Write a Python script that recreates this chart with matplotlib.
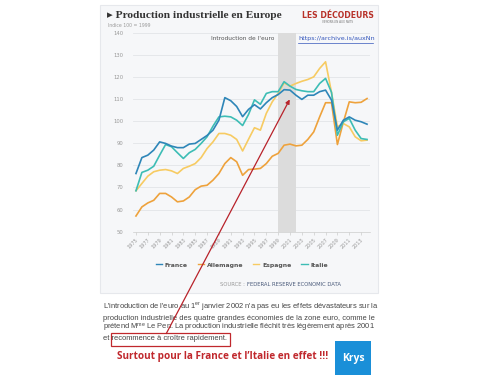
import matplotlib
matplotlib.use("Agg")
import matplotlib.pyplot as plt
from matplotlib.patches import Rectangle, FancyArrowPatch
from matplotlib.lines import Line2D

plt.rcParams['font.family'] = ['DejaVu Sans']
plt.rcParams['mathtext.fontset'] = 'custom'

years = list(range(1975, 2015))
france = [76.3, 83.5, 84.6, 86.9, 90.6, 89.9, 88.7, 88.0, 88.0, 89.6,
          89.9, 91.7, 93.5, 95.9, 100.4, 110.6, 109.2, 106.6, 102.0, 105.3,
          107.4, 105.5, 108.3, 110.6, 112.0, 114.2, 114.0, 111.7, 109.8, 111.7,
          111.7, 113.3, 114.0, 109.5, 95.9, 100.4, 101.9, 100.4, 99.7, 98.6]
allemagne = [57.1, 61.2, 63.0, 64.2, 67.3, 67.3, 65.7, 63.5, 63.9, 65.7,
             69.0, 70.6, 71.0, 73.3, 76.3, 80.8, 83.5, 81.6, 75.5, 78.1,
             78.3, 78.6, 80.8, 84.1, 85.4, 89.1, 89.6, 88.8, 89.1, 91.7,
             95.1, 101.9, 108.3, 108.3, 89.4, 99.5, 108.7, 108.3, 108.5, 110.2]
espagne = [68.5, 71.8, 75.1, 77.1, 77.8, 78.1, 77.5, 76.3, 78.6, 79.6,
           80.8, 83.5, 87.6, 90.6, 94.4, 94.4, 93.6, 91.7, 86.5, 91.8,
           97.0, 95.9, 103.5, 108.7, 112.5, 117.3, 115.8, 117.0, 118.0, 118.8,
           120.0, 123.8, 126.8, 113.0, 97.4, 98.9, 97.4, 92.9, 91.1, 91.4]
italie = [68.5, 76.8, 77.8, 79.6, 84.6, 89.4, 88.4, 85.7, 83.1, 85.7,
          87.2, 89.9, 92.9, 97.7, 101.9, 102.2, 101.9, 100.4, 98.0, 103.0,
          109.6, 107.6, 112.5, 113.3, 113.3, 117.8, 115.8, 114.3, 113.7, 113.3,
          113.3, 117.0, 119.3, 113.0, 93.6, 99.7, 101.2, 95.9, 92.1, 91.7]
series_names = ["France", "Allemagne", "Espagne", "Italie"]
colors = ["#2e86b8", "#eea23c", "#f7cb62", "#3dbdb5"]
tick_years = list(range(1975, 2014, 2))
yticks = list(range(50, 141, 10))
euro_band = (1999, 2002)

W, H = 486, 380
fig = plt.figure(figsize=(W / 100, H / 100), dpi=100)
fig.patch.set_facecolor("white")

def fx(px):
    return px / W

def fy(py):
    return 1 - py / H

# card background
card = Rectangle((fx(100), fy(293)), fx(378) - fx(100), fy(5) - fy(293),
                 transform=fig.transFigure, facecolor="#f6f7f9",
                 edgecolor="#e6e8ec", lw=0.8, zorder=-10)
fig.patches.append(card)

ax = fig.add_axes([fx(133), fy(231.7), fx(370) - fx(133), fy(32.6) - fy(231.7)])
ax.set_zorder(1)
ax.set_facecolor("#f6f7f9")
ax.set_xlim(1974.5, 2014.5)
ax.set_ylim(50, 140)
ax.axvspan(euro_band[0], euro_band[1], color="#dcdcdc", zorder=1, lw=0)
ax.plot(years, allemagne, color=colors[1], lw=1.2, zorder=3)
ax.plot(years, espagne, color=colors[2], lw=1.2, zorder=3)
ax.plot(years, italie, color=colors[3], lw=1.2, zorder=4)
ax.plot(years, france, color=colors[0], lw=1.2, zorder=5)

ax.set_yticks(yticks)
ax.set_yticklabels([str(v) for v in yticks], fontsize=3.8, color="#999999")
ax.set_xticks(tick_years)
ax.set_xticklabels([str(v) for v in tick_years], fontsize=3.6, color="#999999",
                   rotation=45, ha="right", rotation_mode="anchor")
ax.tick_params(axis="y", length=0, pad=7)
ax.tick_params(axis="x", length=2, width=0.5, color="#cccccc", pad=2)
ax.grid(axis="y", color="#e2e4e8", lw=0.6, zorder=0)
ax.set_axisbelow(True)
for s in ["top", "right", "left"]:
    ax.spines[s].set_visible(False)
ax.spines["bottom"].set_color("#cccccc")
ax.spines["bottom"].set_linewidth(0.5)

# titles
fig.text(fx(107), fy(16), "▸ Production industrielle en Europe", fontsize=8.2,
         fontweight="bold", family=["Liberation Serif", "DejaVu Sans"], color="#333333",
         va="center", ha="left")
fig.text(fx(108), fy(25.5), "Indice 100 = 1999", fontsize=3.3, color="#999999",
         va="center", ha="left")
fig.text(fx(338), fy(15), "LES DÉCODEURS", fontsize=5.6, fontweight="bold",
         color="#b8322a", va="center", ha="center")
fig.text(fx(338), fy(22), "VENONS-EN AUX FAITS", fontsize=2.0, color="#777777",
         va="center", ha="center")

fig.text(fx(274), fy(38.5), "Introduction de l'euro", fontsize=4.2, color="#555555",
         va="center", ha="right", zorder=5)
fig.text(fx(298), fy(38.5), "https://archive.is/auxNn", fontsize=4.6, color="#3355bb",
         va="center", ha="left", zorder=5)
fig.lines.append(Line2D([fx(298), fx(373)], [fy(42.5), fy(42.5)], transform=fig.transFigure,
                        color="#3355bb", lw=0.5, zorder=5))

# legend
handles = [Line2D([0], [0], color=c, lw=1.0) for c in colors]
leg = fig.legend(handles, series_names, loc="center", bbox_to_anchor=(fx(242), fy(265)),
                 ncol=4, frameon=False, handlelength=1.0, handletextpad=0.5,
                 columnspacing=1.6, prop={"size": 4.4, "weight": "bold"})
for t in leg.get_texts():
    t.set_color("#555555")

fig.text(fx(247), fy(284), "SOURCE : ", fontsize=3.8, color="#999999", va="center", ha="right")
fig.text(fx(247), fy(284), "FEDERAL RESERVE ECONOMIC DATA", fontsize=3.8, color="#4a5a7a",
         va="center", ha="left")

# paragraph
para_font = ["Liberation Sans", "DejaVu Sans"]
lines = [
    "L'introduction de l'euro au 1$^{\\mathregular{er}}$ janvier 2002 n'a pas eu les effets dévastateurs sur la",
    "production industrielle des quatre grandes économies de la zone euro, comme le",
    "prétend M$^{\\mathregular{me}}$ Le Pen. La production industrielle fléchit très légèrement après 2001",
    "et recommence à croître rapidement.",
]
ys = [307, 318, 328.5, 339]
for ln, yy in zip(lines, ys):
    fig.text(fx(103), fy(yy), ln, fontsize=5.4, family=para_font, color="#444444",
             va="center", ha="left")

box = Rectangle((fx(111), fy(346)), fx(230) - fx(111), fy(333) - fy(346),
                transform=fig.transFigure, fill=False, edgecolor="#c0282d", lw=0.9)
fig.patches.append(box)

arrow = FancyArrowPatch((fx(165), fy(336)), (fx(291), fy(97)), transform=fig.transFigure,
                        arrowstyle="-|>", mutation_scale=6, color="#b8222a", lw=0.9,
                        zorder=10)
fig.patches.append(arrow)

fig.text(fx(117), fy(356), "Surtout pour la France et l\u2019Italie en effet !!!", fontsize=7.2,
         fontweight="bold", family=["Open Sans", "DejaVu Sans"], color="#c0282d",
         va="center", ha="left")

# Krys logo
logo = Rectangle((fx(335), fy(375)), fx(371) - fx(335), fy(341) - fy(375),
                 transform=fig.transFigure, facecolor="#1a8fd8", edgecolor="none")
fig.patches.append(logo)
fig.text(fx(353), fy(358), "Krys", fontsize=7.5, fontweight="bold", color="white",
         family=["Open Sans", "DejaVu Sans"], va="center", ha="center")

fig.savefig("out.png", dpi=100, facecolor="white")
